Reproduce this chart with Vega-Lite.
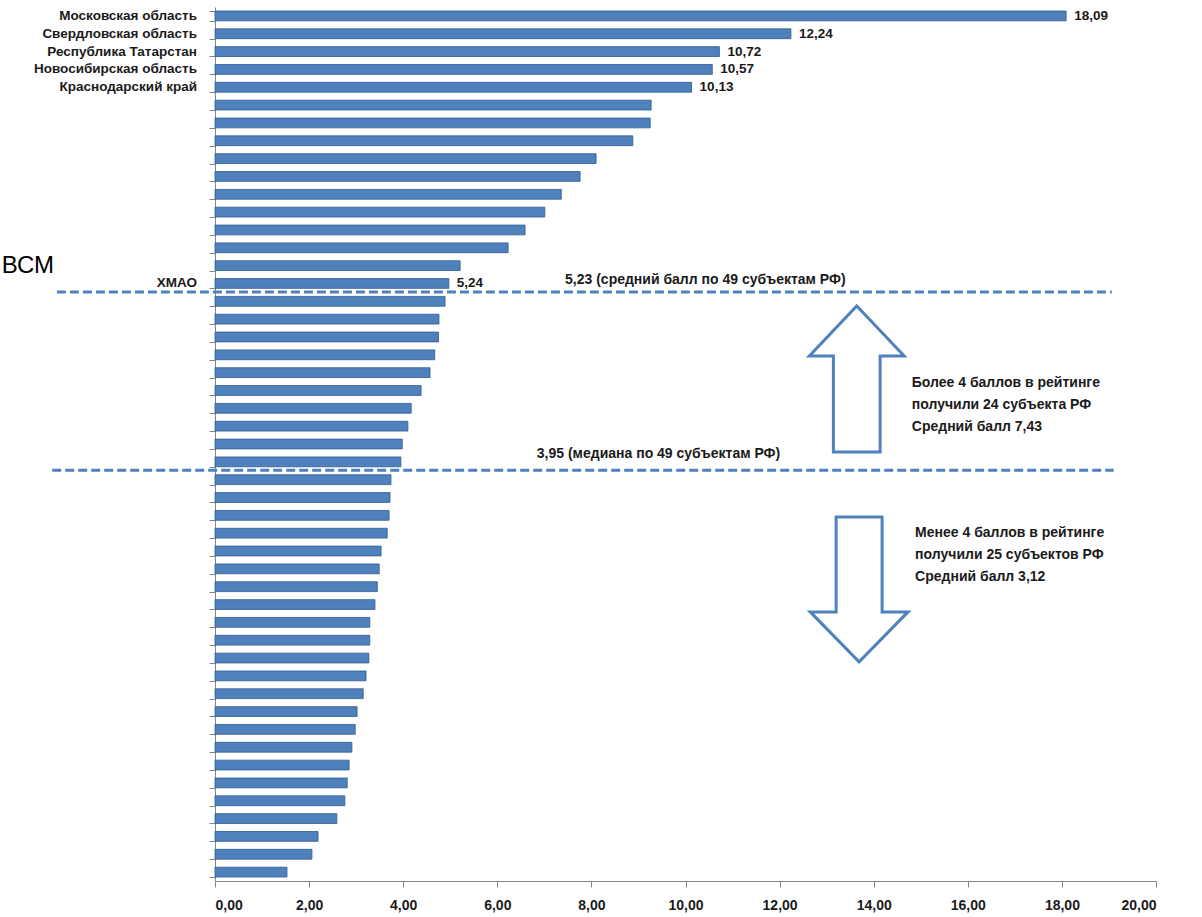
{
  "$schema": "https://vega.github.io/schema/vega-lite/v6.json",
  "width": 941,
  "height": 874,
  "autosize": {"type": "none"},
  "padding": {"left": 215, "top": 7, "right": 46, "bottom": 36},
  "background": "white",
  "config": {"view": {"stroke": null}, "axis": {"grid": false}},
  "datasets": {
    "bars": [
      {"rank": 1, "name": "Московская область", "score": 18.09, "label": "18,09"},
      {"rank": 2, "name": "Свердловская область", "score": 12.24, "label": "12,24"},
      {"rank": 3, "name": "Республика Татарстан", "score": 10.72, "label": "10,72"},
      {"rank": 4, "name": "Новосибирская область", "score": 10.57, "label": "10,57"},
      {"rank": 5, "name": "Краснодарский край", "score": 10.13, "label": "10,13"},
      {"rank": 6, "name": "", "score": 9.27, "label": ""},
      {"rank": 7, "name": "", "score": 9.25, "label": ""},
      {"rank": 8, "name": "", "score": 8.88, "label": ""},
      {"rank": 9, "name": "", "score": 8.10, "label": ""},
      {"rank": 10, "name": "", "score": 7.76, "label": ""},
      {"rank": 11, "name": "", "score": 7.36, "label": ""},
      {"rank": 12, "name": "", "score": 7.01, "label": ""},
      {"rank": 13, "name": "", "score": 6.59, "label": ""},
      {"rank": 14, "name": "", "score": 6.23, "label": ""},
      {"rank": 15, "name": "", "score": 5.21, "label": ""},
      {"rank": 16, "name": "ХМАО", "score": 4.97, "label": "5,24"},
      {"rank": 17, "name": "", "score": 4.89, "label": ""},
      {"rank": 18, "name": "", "score": 4.76, "label": ""},
      {"rank": 19, "name": "", "score": 4.75, "label": ""},
      {"rank": 20, "name": "", "score": 4.67, "label": ""},
      {"rank": 21, "name": "", "score": 4.57, "label": ""},
      {"rank": 22, "name": "", "score": 4.38, "label": ""},
      {"rank": 23, "name": "", "score": 4.17, "label": ""},
      {"rank": 24, "name": "", "score": 4.10, "label": ""},
      {"rank": 25, "name": "", "score": 3.98, "label": ""},
      {"rank": 26, "name": "", "score": 3.95, "label": ""},
      {"rank": 27, "name": "", "score": 3.74, "label": ""},
      {"rank": 28, "name": "", "score": 3.72, "label": ""},
      {"rank": 29, "name": "", "score": 3.70, "label": ""},
      {"rank": 30, "name": "", "score": 3.66, "label": ""},
      {"rank": 31, "name": "", "score": 3.53, "label": ""},
      {"rank": 32, "name": "", "score": 3.49, "label": ""},
      {"rank": 33, "name": "", "score": 3.45, "label": ""},
      {"rank": 34, "name": "", "score": 3.40, "label": ""},
      {"rank": 35, "name": "", "score": 3.29, "label": ""},
      {"rank": 36, "name": "", "score": 3.29, "label": ""},
      {"rank": 37, "name": "", "score": 3.27, "label": ""},
      {"rank": 38, "name": "", "score": 3.21, "label": ""},
      {"rank": 39, "name": "", "score": 3.15, "label": ""},
      {"rank": 40, "name": "", "score": 3.02, "label": ""},
      {"rank": 41, "name": "", "score": 2.98, "label": ""},
      {"rank": 42, "name": "", "score": 2.91, "label": ""},
      {"rank": 43, "name": "", "score": 2.85, "label": ""},
      {"rank": 44, "name": "", "score": 2.81, "label": ""},
      {"rank": 45, "name": "", "score": 2.76, "label": ""},
      {"rank": 46, "name": "", "score": 2.59, "label": ""},
      {"rank": 47, "name": "", "score": 2.19, "label": ""},
      {"rank": 48, "name": "", "score": 2.06, "label": ""},
      {"rank": 49, "name": "", "score": 1.53, "label": ""}
    ],
    "lines": [
      {"rank": 16, "x1": -3.36, "x2": 19.06},
      {"rank": 26, "x1": -3.46, "x2": 19.1}
    ],
    "meantext": [{"rank": 16, "x": 7.44, "text": "5,23 (средний балл по 49 субъектам РФ)"}],
    "mediantext": [{"rank": 26, "x": 6.84, "text": "3,95  (медиана по 49 субъектам РФ)"}],
    "uparrow": [{"rank": 21, "x": 13.64}],
    "downarrow": [{"rank": 33, "x": 13.69}],
    "boxtext1": [{"rank": 21, "x": 14.81, "text": "Более 4 баллов в рейтинге\nполучили 24 субъекта РФ\nСредний балл 7,43"}],
    "boxtext2": [{"rank": 30, "x": 14.88, "text": "Менее 4 баллов в рейтинге\nполучили 25 субъектов РФ\nСредний балл 3,12"}],
    "side": [{"rank": 15, "x": -3.42, "text": "ВСМ"}]
  },
  "encoding": {
    "y": {
      "field": "rank",
      "type": "ordinal",
      "scale": {"paddingInner": 0.45, "paddingOuter": 0.225},
      "axis": {"labels": false, "tickBand": "extent", "title": null, "domainColor": "#868686", "tickColor": "#868686", "tickSize": 6}
    }
  },
  "layer": [
    {
      "data": {"name": "bars"},
      "mark": {"type": "bar", "color": "#4F81BD", "stroke": "#2F5B8E", "strokeWidth": 0.8},
      "encoding": {
        "x": {
          "field": "score",
          "type": "quantitative",
          "scale": {"domain": [0, 20], "nice": false},
          "axis": {
            "values": [0, 2, 4, 6, 8, 10, 12, 14, 16, 18, 20],
            "labelExpr": "replace(format(datum.value, '.2f'), '.', ',')",
            "title": null,
            "domainColor": "#868686",
            "tickColor": "#868686",
            "tickSize": 6,
            "labelPadding": 11,
            "labelFont": "Liberation Sans",
            "labelFontSize": 14,
            "labelFontWeight": "bold",
            "labelColor": "#1a1a1a"
          }
        }
      }
    },
    {
      "data": {"name": "bars"},
      "transform": [{"filter": "datum.name != ''"}],
      "mark": {"type": "text", "align": "right", "baseline": "middle", "dx": -18, "font": "Liberation Sans", "fontSize": 13.5, "fontWeight": "bold", "color": "#1a1a1a"},
      "encoding": {
        "x": {"datum": 0, "type": "quantitative", "title": null},
        "text": {"field": "name"}
      }
    },
    {
      "data": {"name": "bars"},
      "transform": [{"filter": "datum.label != ''"}],
      "mark": {"type": "text", "align": "left", "baseline": "middle", "dx": 8, "font": "Liberation Sans", "fontSize": 13.5, "fontWeight": "bold", "color": "#1a1a1a"},
      "encoding": {
        "x": {"field": "score", "type": "quantitative", "title": null},
        "text": {"field": "label"}
      }
    },
    {
      "data": {"name": "lines"},
      "mark": {"type": "rule", "color": "#4F81BD", "strokeWidth": 3, "strokeDash": [9, 4], "yOffset": 8.5},
      "encoding": {
        "x": {"field": "x1", "type": "quantitative", "title": null},
        "x2": {"field": "x2"}
      }
    },
    {
      "data": {"name": "meantext"},
      "mark": {"type": "text", "align": "left", "baseline": "middle", "dy": -3, "font": "Liberation Sans", "fontSize": 14, "fontWeight": "bold", "color": "#1a1a1a"},
      "encoding": {
        "x": {"field": "x", "type": "quantitative", "title": null},
        "text": {"field": "text"}
      }
    },
    {
      "data": {"name": "mediantext"},
      "mark": {"type": "text", "align": "left", "baseline": "middle", "dy": -8, "font": "Liberation Sans", "fontSize": 14, "fontWeight": "bold", "color": "#1a1a1a"},
      "encoding": {
        "x": {"field": "x", "type": "quantitative", "title": null},
        "text": {"field": "text"}
      }
    },
    {
      "data": {"name": "uparrow"},
      "mark": {"type": "point", "shape": "M0,-0.914 L0.65,-0.229 L0.32,-0.229 L0.32,1.086 L-0.32,1.086 L-0.32,-0.229 L-0.65,-0.229 Z", "size": 21316, "filled": true, "fill": "white", "stroke": "#4F81BD", "strokeWidth": 3, "opacity": 1},
      "encoding": {
        "x": {"field": "x", "type": "quantitative", "title": null}
      }
    },
    {
      "data": {"name": "downarrow"},
      "mark": {"type": "point", "shape": "M-0.315,-0.956 L0.315,-0.956 L0.315,0.345 L0.67,0.345 L0,1.03 L-0.67,0.345 L-0.315,0.345 Z", "size": 21316, "filled": true, "fill": "white", "stroke": "#4F81BD", "strokeWidth": 3, "opacity": 1},
      "encoding": {
        "x": {"field": "x", "type": "quantitative", "title": null}
      }
    },
    {
      "data": {"name": "boxtext1"},
      "mark": {"type": "text", "align": "left", "baseline": "top", "dy": 3.5, "lineBreak": "\n", "lineHeight": 22, "font": "Liberation Sans", "fontSize": 14, "fontWeight": "bold", "color": "#1a1a1a"},
      "encoding": {
        "x": {"field": "x", "type": "quantitative", "title": null},
        "text": {"field": "text"}
      }
    },
    {
      "data": {"name": "boxtext2"},
      "mark": {"type": "text", "align": "left", "baseline": "top", "dy": -7, "lineBreak": "\n", "lineHeight": 22, "font": "Liberation Sans", "fontSize": 14, "fontWeight": "bold", "color": "#1a1a1a"},
      "encoding": {
        "x": {"field": "x", "type": "quantitative", "title": null},
        "text": {"field": "text"}
      }
    },
    {
      "data": {"name": "side"},
      "mark": {"type": "text", "align": "right", "baseline": "middle", "font": "Liberation Sans", "fontSize": 24, "color": "#000000"},
      "encoding": {
        "x": {"field": "x", "type": "quantitative", "title": null},
        "text": {"field": "text"}
      }
    }
  ]
}
